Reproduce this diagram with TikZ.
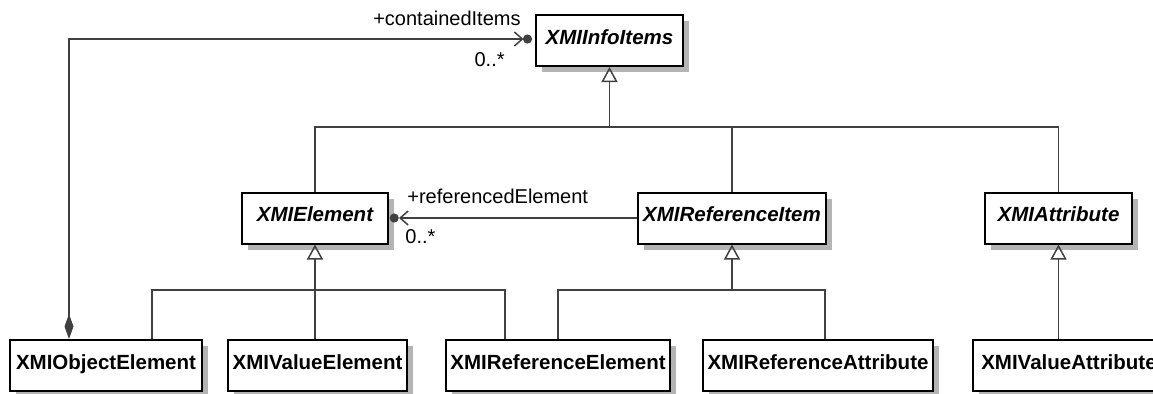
\documentclass[tikz,border=0pt]{standalone}
\usepackage{fontspec}
\setmainfont{Liberation Sans}
\usetikzlibrary{arrows.meta,shadows}
\definecolor{linecol}{HTML}{404040}
\definecolor{shadowcol}{HTML}{B4B4B4}
\tikzset{
  cls/.style={draw=black, line width=1pt, fill=white, inner sep=0pt,
    minimum height=25.5pt, text height=7.5pt, text depth=4pt,
    font=\fontsize{10.25}{12}\selectfont\bfseries,
    drop shadow={shadow xshift=3pt, shadow yshift=-3pt, fill=shadowcol, opacity=1}},
  abs/.style={cls, font=\fontsize{10.25}{12}\selectfont\bfseries\itshape},
  conn/.style={draw=linecol, line width=0.75pt},
  gen/.style={conn, -{Triangle[open, length=7.5pt, width=8pt]}},
  nav/.style={conn, -{Straight Barb[length=4pt,width=7pt]}},
  lbl/.style={inner sep=0pt, font=\fontsize{10}{12}\selectfont},
}
\begin{document}
\begin{tikzpicture}[x=0.5pt,y=-0.5pt]
\useasboundingbox (0,0) rectangle (1153,393);
% classes
\node[abs, minimum width=73.5pt] (info) at (609.5,40.5) {XMIInfoItems};
\node[abs, minimum width=73pt] (element) at (315,218) {XMIElement};
\node[abs, minimum width=94pt] (refitem) at (732,218) {XMIReferenceItem};
\node[abs, minimum width=73.5pt] (attr) at (1058.5,218) {XMIAttribute};
\node[cls, minimum width=96pt] (objel) at (106,365.5) {XMIObjectElement};
\node[cls, minimum width=89.5pt] (valel) at (317.5,365.5) {XMIValueElement};
\node[cls, minimum width=112pt] (refel) at (558,365.5) {XMIReferenceElement};
\node[cls, minimum width=115pt] (refattr) at (818,365.5) {XMIReferenceAttribute};
\node[cls, minimum width=96pt] (valattr) at (1069,365.5) {XMIValueAttribute};
% junction coordinates
\coordinate (tb) at (609.5,127);
\coordinate (j1) at (152,290);
\coordinate (j3) at (505,290);
\coordinate (rb) at (732,290);
\coordinate (k1) at (558,290);
\coordinate (k2) at (825,290);
% top generalization tree
\draw[gen] (tb) -- (info.south);
\draw[conn] (element.north) -- (element.north |- tb) -- (attr.north |- tb) -- (attr.north);
\draw[conn] (refitem.north) -- (refitem.north |- tb);
% XMIElement tree
\draw[gen] (element.south |- valel.north) -- (element.south);
\draw[conn] (j1 |- objel.north) -- (j1) -- (j3) -- (j3 |- refel.north);
% XMIReferenceItem tree
\draw[gen] (rb) -- (refitem.south);
\draw[conn] (k1 |- refel.north) -- (k1) -- (k2) -- (k2 |- refattr.north);
% XMIAttribute tree
\draw[gen] (attr.south |- valattr.north) -- (attr.south);
% association referencedElement
\draw[nav] (refitem.west) -- ([xshift=5pt]element.east);
\fill[linecol] ([xshift=2.6pt]element.east) circle (2.3pt);
% composition containedItems
\draw[conn, {Diamond[length=12.5pt,width=4.5pt]}-{Straight Barb[length=4pt,width=7pt]}]
  ([xshift=-18.5pt]objel.north) |- ([xshift=-5.75pt,yshift=0.75pt]info.west);
\fill[linecol] ([xshift=-3.75pt,yshift=0.75pt]info.west) circle (2.3pt);
% labels
\node[lbl, anchor=base east] (lci) at (521,25) {+containedItems};
\node[lbl, anchor=base east] (mci) at (505,66) {0..*};
\node[lbl, anchor=base west] (lre) at (407,203) {+referencedElement};
\node[lbl, anchor=base west] (mre) at (405,243) {0..*};
\end{tikzpicture}
\end{document}
